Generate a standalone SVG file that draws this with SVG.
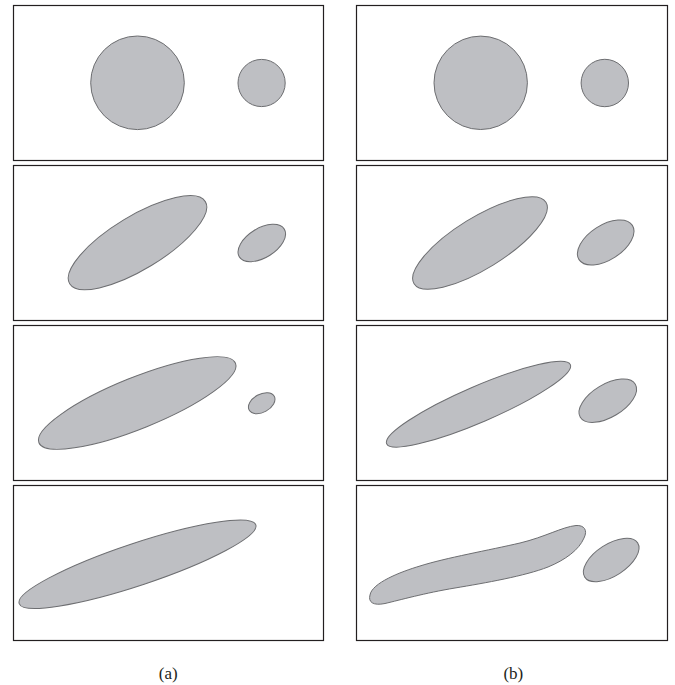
<svg xmlns="http://www.w3.org/2000/svg" width="675" height="685" viewBox="0 0 675 685">
<style>
.panel{fill:#ffffff;stroke:#231f20;stroke-width:1.2}
.blob{fill:#bebfc3;stroke:#6d6e71;stroke-width:1}
.lbl{font-family:"Liberation Serif","Times New Roman",serif;font-size:17px;fill:#231f20;text-anchor:middle}
</style>
<rect width="675" height="685" fill="#ffffff"/>
<g id="a1">
<rect class="panel" x="13.5" y="5.5" width="310" height="155"/>
<circle class="blob" cx="137.5" cy="82.8" r="46.8"/>
<circle class="blob" cx="261.6" cy="83" r="23.6"/>
</g>
<g id="b1">
<rect class="panel" x="356.5" y="5.5" width="311" height="155"/>
<circle class="blob" cx="480.7" cy="82.8" r="46.7"/>
<circle class="blob" cx="604.8" cy="83" r="23.7"/>
</g>
<g id="a2">
<rect class="panel" x="13.5" y="165.5" width="310" height="155"/>
<ellipse class="blob" cx="137.5" cy="242.7" rx="79.3" ry="26.7" transform="rotate(-31.2 137.5 242.7)"/>
<ellipse class="blob" cx="261.8" cy="243" rx="26.4" ry="14.7" transform="rotate(-31.7 261.8 243)"/>
</g>
<g id="b2">
<rect class="panel" x="356.5" y="165.5" width="311" height="155"/>
<ellipse class="blob" cx="480" cy="243" rx="77.5" ry="25.7" transform="rotate(-31.7 480 243)"/>
<ellipse class="blob" cx="605.7" cy="242.5" rx="31.7" ry="17.3" transform="rotate(-32.7 605.7 242.5)"/>
</g>
<g id="a3">
<rect class="panel" x="13.5" y="325.5" width="310" height="155"/>
<ellipse class="blob" cx="137.2" cy="403" rx="106" ry="25.6" transform="rotate(-22 137.2 403)"/>
<ellipse class="blob" cx="261.7" cy="403.2" rx="14.3" ry="9" transform="rotate(-28.7 261.7 403.2)"/>
</g>
<g id="b3">
<rect class="panel" x="356.5" y="325.5" width="311" height="155"/>
<ellipse class="blob" cx="478.5" cy="404.2" rx="100" ry="18" transform="rotate(-23.3 478.5 404.2)"/>
<ellipse class="blob" cx="607.8" cy="400.7" rx="32.1" ry="16.4" transform="rotate(-31 607.8 400.7)"/>
</g>
<g id="a4">
<rect class="panel" x="13.5" y="485.5" width="310" height="155"/>
<ellipse class="blob" cx="137.5" cy="564.2" rx="124.7" ry="21.1" transform="rotate(-18.4 137.5 564.2)"/>
</g>
<g id="b4">
<rect class="panel" x="356.5" y="485.5" width="311" height="155"/>
<path class="blob" d="M370,595 C372,583 400,572 420,566 C445,558 490,550 520,543 C545,537 562,527 576,525.5 C584,525 588,530 584,538 C579,550 565,560 548,567 C525,576 485,583 455,588 C425,593 400,600 385,603.5 C373,606 368,602 370,595 Z"/>
<ellipse class="blob" cx="611.2" cy="560" rx="31.5" ry="15.9" transform="rotate(-32.9 611.2 560)"/>
</g>
<g id="labels">
<text class="lbl" x="168.3" y="679">(a)</text>
<text class="lbl" x="513.3" y="679">(b)</text>
</g>
</svg>
